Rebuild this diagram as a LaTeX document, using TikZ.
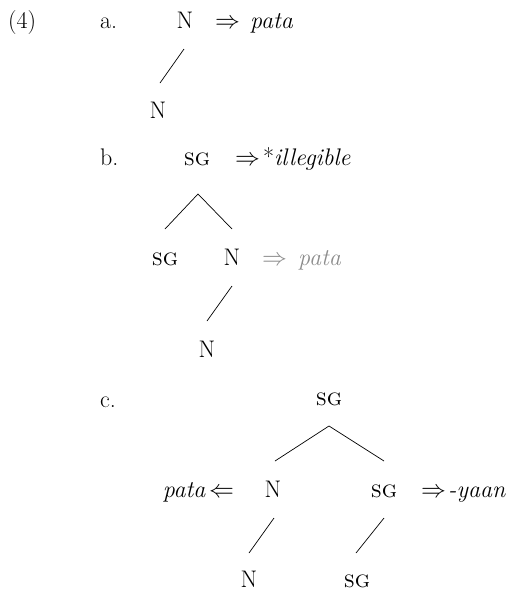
\documentclass[tikz,border=0pt]{standalone}
\usetikzlibrary{calc}
\begin{document}
\begin{tikzpicture}[x=1pt,y=-1pt,
  every node/.style={inner sep=0pt,font=\fontsize{24}{29}\selectfont},
  lbl/.style={anchor=base},
  txt/.style={anchor=base west},
  gr/.style={text=black!45},
  br/.style={line width=0.7pt}]
\useasboundingbox (0,0) rectangle (530,592);
% (a)
\node[txt] (num) at (8,28) {(4)};
\node[txt] (la) at (100,28) {a.};
\node[lbl] (aN) at (185,28) {N};
\node[txt] (aarr) at (215,28) {$\Rightarrow$};
\node[txt] (aw) at (250,28) {\textit{pata}};
\node[lbl] (aNb) at (158,118) {N};
\draw[br] ($(aN.base)+(-1,21)$) -- ($(aNb.base)+(2,-35)$);
% (b)
\node[txt] (lb) at (100,165) {b.};
\node[lbl] (bSG) at (197,165) {\textsc{sg}};
\node[txt] (barr) at (235,165) {$\Rightarrow$};
\node[txt] (bw) at (263,165) {*\textit{illegible}};
\node[lbl] (bSGl) at (165,265) {\textsc{sg}};
\node[lbl] (bN) at (232,265) {N};
\node[txt,gr] (barr2) at (262,265) {$\Rightarrow$};
\node[txt,gr] (bw2) at (298,265) {\textit{pata}};
\node[lbl] (bNb) at (207,357) {N};
\draw[br] ($(bSGl.base)+(0,-36)$) -- ($(bSG.base)+(1,29)$) -- ($(bN.base)+(0,-36)$);
\draw[br] ($(bN.base)+(0,21)$) -- ($(bNb.base)+(0,-36)$);
% (c)
\node[txt] (lc) at (100,407) {c.};
\node[lbl] (cSG) at (329,405) {\textsc{sg}};
\node[lbl] (cN) at (273,497) {N};
\node[anchor=base east] (cw) at (206,497) {\textit{pata}};
\node[txt] (carr) at (209,497) {$\Leftarrow$};
\node[lbl] (cSGr) at (384,497) {\textsc{sg}};
\node[txt] (carr2) at (421,497) {$\Rightarrow$};
\node[txt] (cw2) at (448,497) {\textit{-yaan}};
\node[lbl] (cNb) at (249,587) {N};
\node[lbl] (cSGb) at (357,587) {\textsc{sg}};
\draw[br] ($(cN.base)+(2,-36)$) -- ($(cSG.base)+(0,21)$) -- ($(cSGr.base)+(0,-36)$);
\draw[br] ($(cN.base)+(1,21)$) -- ($(cNb.base)+(0,-34)$);
\draw[br] ($(cSGr.base)+(0,21)$) -- ($(cSGb.base)+(-1,-34)$);
\end{tikzpicture}
\end{document}
